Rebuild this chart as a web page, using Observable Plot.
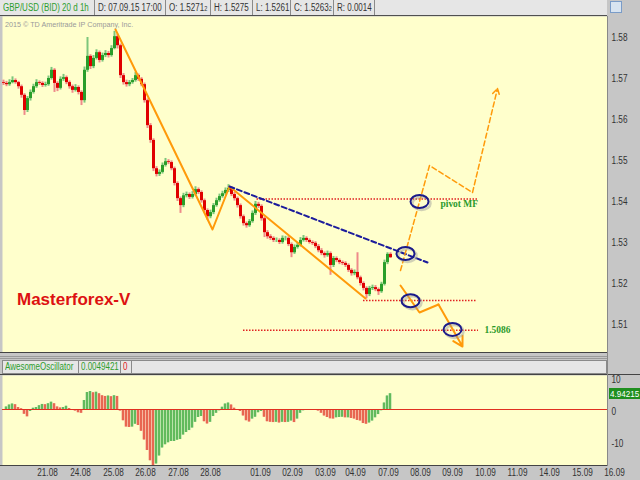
<!DOCTYPE html>
<html><head><meta charset="utf-8">
<script src="https://cdn.jsdelivr.net/npm/d3@7"></script>
<script src="https://cdn.jsdelivr.net/npm/@observablehq/plot@0.6"></script>
<style>
body{margin:0;background:#c6c6c6;}
#wrap{position:relative;width:640px;height:480px;background:#c6c6c6;overflow:hidden;font-family:"Liberation Sans",Arial,sans-serif;}
.a{position:absolute;}
.bar{background:#e6e6e6;box-sizing:border-box;}
.cell{position:absolute;top:0;height:15px;line-height:15px;font-size:10px;color:#333;border-right:1px solid #8a8a8a;box-sizing:border-box;padding-left:3px;white-space:nowrap;overflow:hidden;}
.cell small{font-size:7px;}
.ocell{position:absolute;top:0;height:12px;line-height:12px;font-size:10px;border-right:1px solid #8a8a8a;box-sizing:border-box;padding-left:2px;white-space:nowrap;overflow:hidden;}
.sq{display:inline-block;transform:scaleX(0.8);transform-origin:0 50%;}
svg{display:block;overflow:visible;}
</style></head>
<body>
<div id="wrap">
  <div class="a bar" style="left:0;top:0;width:607px;height:16px;border-bottom:1px solid #505050;" id="hdr"></div>
  <div class="a" style="left:610px;top:1px;width:10px;height:10px;border:1px solid #7a9cc8;background:#d8e4f0;"></div>
  <div class="a" id="price" style="left:0;top:16px;width:640px;height:336px;"></div>
  <div class="a" style="left:5px;top:20px;font-size:8px;line-height:10px;color:#9a9a9a;white-space:nowrap;"><span class="sq" style="transform:scaleX(0.9)">2015 © TD Ameritrade IP Company, Inc.</span></div>
  <div class="a" style="left:17px;top:291px;font-size:17px;line-height:17px;font-weight:bold;color:#dd1111;">Masterforex-V</div>
  <div class="a" style="left:0;top:352px;width:608px;height:1px;background:#444;"></div>
  <div class="a" style="left:0;top:356px;width:608px;height:1px;background:#9a9a9a;"></div>
  <div class="a" style="left:0;top:358px;width:608px;height:1px;background:#9a9a9a;"></div>
  <div class="a bar" id="ohdr" style="left:2px;top:360px;width:605px;height:14px;border:1px solid #8a8a8a;"></div>
  <div class="a" style="left:0;top:374px;width:640px;height:1px;background:#444;"></div>
  <div class="a" id="osc" style="left:0;top:375px;width:640px;height:105px;"></div>
  <div class="a" style="left:0;top:465px;width:608px;height:1px;background:#444;"></div>
  <div class="a" style="left:607px;top:16px;width:1px;height:450px;background:#888;"></div>
  <div class="a" style="left:609px;top:388px;width:31px;height:11px;background:#1f8f1f;color:#fff;font-size:9.5px;line-height:11px;padding-left:1px;white-space:nowrap;overflow:hidden;"><span class="sq" id="aoval" style="transform:scaleX(0.85)"></span></div>
</div>
<script>
// ---------------- data ----------------
const headerCells = ["GBP/USD (BID) 20 d 1h", "D: 07.09.15 17:00", "O: 1.5271<small>2</small>", "H: 1.5275", "L: 1.5261", "C: 1.5263<small>2</small>", "R: 0.0014"];
const oscHeaderCells = ["AwesomeOscillator", "0.0049421", "0"];
const aoLastLabel = "4.94215";

const firstOpen = 1.5690;
const closes = [1.5688,1.5685,1.5690,1.5695,1.5690,1.5680,1.5659,1.5622,1.5651,1.5666,
1.5680,1.5690,1.5688,1.5683,1.5685,1.5700,1.5720,1.5688,1.5676,1.5698,
1.5702,1.5690,1.5680,1.5671,1.5678,1.5666,1.5646,1.5720,1.5754,1.5729,
1.5749,1.5763,1.5744,1.5756,1.5761,1.5756,1.5773,1.5802,1.5780,1.5707,
1.5690,1.5685,1.5690,1.5695,1.5707,1.5698,1.5685,1.5646,1.5585,1.5549,
1.5480,1.5466,1.5471,1.5488,1.5497,1.5495,1.5480,1.5444,1.5407,1.5390,
1.5414,1.5417,1.5410,1.5417,1.5429,1.5422,1.5402,1.5378,1.5363,1.5373,
1.5390,1.5402,1.5412,1.5419,1.5427,1.5432,1.5417,1.5407,1.5390,1.5363,
1.5346,1.5341,1.5351,1.5371,1.5393,1.5388,1.5358,1.5324,1.5314,1.5310,
1.5305,1.5305,1.5300,1.5310,1.5310,1.5295,1.5275,1.5288,1.5293,1.5305,
1.5310,1.5305,1.5300,1.5298,1.5290,1.5280,1.5273,1.5268,1.5273,1.5244,
1.5261,1.5256,1.5251,1.5249,1.5244,1.5232,1.5224,1.5227,1.5214,1.5200,
1.5188,1.5173,1.5188,1.5190,1.5185,1.5180,1.5198,1.5251,1.5271,1.5263];
const highs = [1.5696,1.5693,1.5697,1.5704,1.5699,1.5693,1.5684,1.5663,1.5656,1.5672,
1.5686,1.5697,1.5694,1.5692,1.5691,1.5706,1.5727,1.5724,1.5692,1.5704,
1.5710,1.5706,1.5694,1.5684,1.5685,1.5682,1.5670,1.5728,1.5800,1.5758,
1.5756,1.5770,1.5767,1.5762,1.5768,1.5766,1.5780,1.5815,1.5808,1.5784,
1.5712,1.5696,1.5695,1.5700,1.5715,1.5711,1.5702,1.5689,1.5650,1.5590,
1.5553,1.5485,1.5477,1.5494,1.5505,1.5502,1.5499,1.5484,1.5448,1.5411,
1.5420,1.5423,1.5421,1.5424,1.5436,1.5433,1.5426,1.5406,1.5382,1.5379,
1.5395,1.5408,1.5418,1.5425,1.5433,1.5441,1.5436,1.5422,1.5411,1.5394,
1.5367,1.5350,1.5356,1.5377,1.5400,1.5398,1.5392,1.5362,1.5329,1.5319,
1.5314,1.5311,1.5309,1.5316,1.5315,1.5314,1.5299,1.5294,1.5299,1.5312,
1.5317,1.5314,1.5309,1.5304,1.5302,1.5295,1.5285,1.5277,1.5279,1.5277,
1.5266,1.5265,1.5260,1.5255,1.5253,1.5248,1.5236,1.5233,1.5275,1.5218,
1.5204,1.5192,1.5193,1.5196,1.5195,1.5189,1.5203,1.5257,1.5275,1.5275];
const lows = [1.5683,1.5680,1.5681,1.5687,1.5686,1.5674,1.5652,1.5610,1.5617,1.5645,
1.5662,1.5676,1.5683,1.5678,1.5679,1.5681,1.5696,1.5666,1.5668,1.5672,
1.5693,1.5685,1.5674,1.5664,1.5667,1.5660,1.5634,1.5640,1.5715,1.5722,
1.5724,1.5745,1.5738,1.5740,1.5751,1.5750,1.5752,1.5770,1.5772,1.5700,
1.5684,1.5679,1.5680,1.5686,1.5691,1.5693,1.5680,1.5640,1.5578,1.5542,
1.5473,1.5460,1.5461,1.5467,1.5484,1.5490,1.5475,1.5438,1.5400,1.5371,
1.5385,1.5409,1.5405,1.5406,1.5413,1.5417,1.5396,1.5372,1.5354,1.5358,
1.5368,1.5386,1.5398,1.5408,1.5415,1.5422,1.5412,1.5401,1.5384,1.5357,
1.5340,1.5335,1.5337,1.5347,1.5366,1.5383,1.5352,1.5312,1.5308,1.5305,
1.5300,1.5300,1.5295,1.5296,1.5304,1.5290,1.5263,1.5271,1.5284,1.5289,
1.5301,1.5300,1.5296,1.5293,1.5285,1.5275,1.5268,1.5262,1.5264,1.5220,
1.5239,1.5251,1.5246,1.5244,1.5239,1.5227,1.5218,1.5219,1.5209,1.5194,
1.5182,1.5163,1.5168,1.5183,1.5180,1.5171,1.5176,1.5194,1.5246,1.5261];
const aoValues = [-0.3,0.8,1.4,1.7,1.5,0.6,0.2,-1.5,-2.3,-0.6,
0.4,0.6,1.2,1.6,1.5,1.8,2.3,1.8,0.8,0.5,
0.6,1.0,0.3,-0.3,-0.5,-1.0,-1.2,2.8,5.3,5.6,
5.2,5.4,4.9,4.3,4.1,4.2,4.0,4.3,4.1,-0.5,
-3.5,-5.5,-5.6,-5.5,-4.6,-5.0,-6.8,-9.5,-12.8,-16,
-17.5,-17,-14.5,-12,-11,-10.4,-10,-10,-9.6,-9.4,
-8,-7.2,-6.6,-5.8,-4,-2.5,-2.2,-3.8,-4.5,-4.0,
-2.2,-1.2,-0.4,0.7,1.7,2.0,1.4,0.4,-0.3,-0.6,
-2.0,-3.5,-3.9,-3.0,-2.4,-1.0,-0.6,-2.4,-3.8,-4.0,
-4.1,-4.0,-4.2,-4.0,-4.1,-4.0,-3.6,-4.1,-3.0,-1.2,
-0.4,-0.2,-0.1,-0.2,-0.3,-0.5,-1.2,-2.0,-2.5,-2.9,
-3.0,-2.6,-2.5,-2.4,-2.6,-2.6,-2.8,-3.0,-3.4,-3.6,
-4.4,-4.6,-4.2,-3.6,-2.6,-1.6,-0.4,2.0,4.2,4.94215];

const priceTicks = [1.51,1.52,1.53,1.54,1.55,1.56,1.57,1.58];
const aoTicks = [-10,0,10];
const dateLabels = ["21.08","24.08","25.08","26.08","27.08","28.08","01.09","02.09","03.09","04.09","07.09","08.09","09.09","10.09","11.09","14.09","15.09","16.09"];
const dateTickBars = [14.67,25.67,36.67,47.33,58.33,69,85.67,96.33,107.33,117.33,128.33,139,149.67,160.67,171.33,182,193,203.67];

// annotation geometry (bar index, price)
const swingBars = [37.33,69.67,75.33,120.67];
const swingPrices = [1.58195,1.53317,1.54366,1.51634];
const trendBars = [75.33,141.33];
const trendPrices = [1.54366,1.52512];
const levelPrices = [1.5406,1.51585,1.5086];
const levelStart = [84.5,120,80];
const levelEnd = [158.33,157.67,158.33];
const upBars = [132.33,142,156.33,164.67];
const upPrices = [1.52317,1.54878,1.54220,1.56756];
const downBars = [132.33,138.67,145,153];
const downPrices = [1.51951,1.51293,1.51488,1.50463];
const ringBars = [138.67,134,135.67,149.67];
const ringPrices = [1.5400,1.52732,1.5158,1.5088];
const noteTexts = ["pivot MF","1.5086"];
const noteBars = [145.67,160.33];
const notePrices = [1.53939,1.50866];

// ---------------- header ----------------
const cellX = [0,95,166,211,253,291,334];
const cellW = [95,71,45,42,38,43,41];
const hdr = document.getElementById("hdr");
headerCells.forEach((t,i)=>{
  const d = document.createElement("div");
  d.className = "cell";
  d.style.left = cellX[i]+"px"; d.style.width = cellW[i]+"px";
  d.style.color = i===0 ? "#2e9e2e" : "#333";
  d.innerHTML = '<span class="sq">' + t + '</span>'; hdr.appendChild(d);
});
const ohdr = document.getElementById("ohdr");
const ocX = [0,76,118], ocW = [76,42,11], ocC = ["#2e9e2e","#2e9e2e","#e02020"];
oscHeaderCells.forEach((t,i)=>{
  const d = document.createElement("div");
  d.className = "ocell";
  d.style.left = ocX[i]+"px"; d.style.width = ocW[i]+"px"; d.style.color = ocC[i];
  d.innerHTML = '<span class="sq">' + t + '</span>'; ohdr.appendChild(d);
});
document.getElementById("aoval").textContent = aoLastLabel;

// ---------------- price panel ----------------
const X_DOMAIN = [-1/3, 201 + 1/3];
const bars = closes.map((c,i)=>({i, o: i===0 ? firstOpen : closes[i-1], c, h: highs[i], l: lows[i]}));
const isUp = d => d.c >= d.o;
const pts = (bs, ps) => bs.map((b,i)=>({b, p: ps[i]}));
const swing = pts(swingBars, swingPrices);
const trend = pts(trendBars, trendPrices);
const upPath = pts(upBars, upPrices);
const downPath = pts(downBars, downPrices);
const rings = pts(ringBars, ringPrices);
const levels = levelPrices.map((p,i)=>({p, b1: levelStart[i], b2: levelEnd[i]}));
const notes = noteTexts.map((t,i)=>({t, b: noteBars[i], p: notePrices[i]}));
const lastSeg = path => [{x1: path[path.length-2].b, y1: path[path.length-2].p, x2: path[path.length-1].b, y2: path[path.length-1].p}];

const ellipse = {draw(ctx){const rx=9, ry=6.5, k=0.5523;
  ctx.moveTo(rx,0);
  ctx.bezierCurveTo(rx,ry*k,rx*k,ry,0,ry);
  ctx.bezierCurveTo(-rx*k,ry,-rx,ry*k,-rx,0);
  ctx.bezierCurveTo(-rx,-ry*k,-rx*k,-ry,0,-ry);
  ctx.bezierCurveTo(rx*k,-ry,rx,-ry*k,rx,0);
  ctx.closePath();}};

const font = "'Liberation Sans',Arial,sans-serif";
const orange = "#ff9a0a";

const pricePlot = Plot.plot({
  width: 640, height: 336, marginLeft: 2, marginRight: 33, marginTop: 0, marginBottom: 0,
  style: {background: "transparent", fontFamily: font, fontSize: "10px", color: "#333"},
  x: {domain: X_DOMAIN, axis: null},
  y: {domain: [1.503171, 1.585122], axis: null},
  marks: [
    Plot.frame({fill: "#ffffcc", stroke: "none"}),
    Plot.axisY(priceTicks, {anchor: "right", label: null, tickSize: 0, tickPadding: 4, tickFormat: d3.format(".2f"), fill: "#333"}),
    Plot.ruleY(levels, {y: "p", x1: "b1", x2: "b2", stroke: "#e02020", strokeWidth: 1.5, strokeDasharray: "1.5,1.5"}),
    Plot.ruleX(bars, {x: "i", y1: "l", y2: "h", stroke: d => isUp(d) ? "#7cc67c" : "#ee8a8a", strokeWidth: 2}),
    Plot.ruleX(bars, {x: "i", y1: "o", y2: "c", stroke: d => isUp(d) ? "#2a9e2a" : "#e00000", strokeWidth: 3}),
    Plot.line(swing, {x: "b", y: "p", stroke: orange, strokeWidth: 2}),
    Plot.line(trend, {x: "b", y: "p", stroke: "#1c1c9c", strokeWidth: 2, strokeDasharray: "5,3"}),
    Plot.line(upPath.slice(0, -1), {x: "b", y: "p", stroke: orange, strokeWidth: 1.5, strokeDasharray: "5,3"}),
    Plot.arrow(lastSeg(upPath), {x1: "x1", y1: "y1", x2: "x2", y2: "y2", stroke: orange, strokeWidth: 1.5, strokeDasharray: "5,3", headLength: 7}),
    Plot.line(downPath.slice(0, -1), {x: "b", y: "p", stroke: orange, strokeWidth: 2}),
    Plot.arrow(lastSeg(downPath), {x1: "x1", y1: "y1", x2: "x2", y2: "y2", stroke: orange, strokeWidth: 2, headLength: 8}),
    Plot.dot(rings, {x: "b", y: "p", symbol: ellipse, r: 5, stroke: "#999", strokeOpacity: 0.45, strokeWidth: 2.5, fill: "none", dx: 2, dy: 2}),
    Plot.dot(rings, {x: "b", y: "p", symbol: ellipse, r: 5, stroke: "#1a1a8a", strokeWidth: 2, fill: "none"}),
    Plot.text(notes, {x: "b", y: "p", text: "t", textAnchor: "start", fill: "#2a9a2a", fontWeight: "bold", fontFamily: "'Liberation Serif','DejaVu Serif',serif", fontSize: 10.5})
  ]
});
document.getElementById("price").appendChild(pricePlot);

// ---------------- oscillator panel ----------------
const ao = aoValues.map((v,i)=>({i, v, up: i===0 ? true : v >= aoValues[i-1]}));
const dateTicks = dateLabels.map((label,i)=>({label, b: dateTickBars[i]}));
const oscPlot = Plot.plot({
  width: 640, height: 105, marginLeft: 2, marginRight: 33, marginTop: 0, marginBottom: 15,
  style: {background: "transparent", fontFamily: font, fontSize: "10px", color: "#333"},
  x: {domain: X_DOMAIN, axis: null},
  y: {domain: [-17.5, 10.625], axis: null},
  marks: [
    Plot.frame({fill: "#ffffcc", stroke: "none"}),
    Plot.rectY(ao, {x1: d => d.i - 0.5, x2: d => d.i + 0.5, y1: 0, y2: "v", fill: d => d.up ? "#a3d99c" : "#f4a48f"}),
    Plot.ruleX(ao, {x: "i", y1: 0, y2: "v", stroke: d => d.up ? "#4caf47" : "#e5533d", strokeWidth: 1.5, dx: -0.5}),
    Plot.ruleY([0], {stroke: "#e03020", strokeWidth: 1}),
    Plot.axisY(aoTicks, {anchor: "right", label: null, tickSize: 0, tickPadding: 4, tickFormat: d => String(d), fill: "#333", dy: 2.5}),
    Plot.text(dateTicks, {x: "b", text: "label", frameAnchor: "bottom", dy: 7, lineAnchor: "middle", fill: "#333"})
  ]
});
document.getElementById("osc").appendChild(oscPlot);

// narrow the axis lettering like the reference's condensed UI font
function squeeze(nodes, f) {
  nodes.forEach(t => {
    const L = t.getComputedTextLength();
    if (L > 0) { t.setAttribute("textLength", (L * f).toFixed(1)); t.setAttribute("lengthAdjust", "spacingAndGlyphs"); }
  });
}
squeeze(pricePlot.querySelectorAll('g[aria-label="y-axis tick label"] text'), 0.82);
squeeze(oscPlot.querySelectorAll('text'), 0.82);
squeeze(pricePlot.querySelectorAll('g[aria-label="text"] text'), 0.9);
</script>
</body></html>
